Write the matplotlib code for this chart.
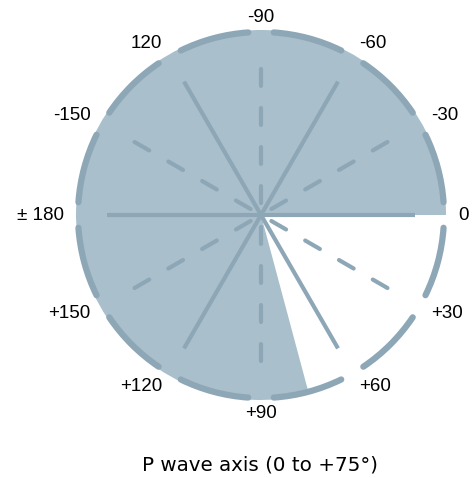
import numpy as np
import matplotlib
matplotlib.use('Agg')
import matplotlib.pyplot as plt
from matplotlib.patches import Wedge, Arc

# axis angles in degrees, screen convention (+ is clockwise / downward)
spoke_angles = [0, 30, 60, 90, 120, 150, 180, 210, 240, 270, 300, 330]
spoke_dashed = [False, True, False, True, False, True, False, True, False, True, False, True]
tick_labels = ['0', '+30', '+60', '+90', '+120', '+150', '\u00b1 180', '-150', '120', '-90', '-60', '-30']
normal_range = (0, 75)
title = 'P wave axis (0 to +75\u00b0)'

fill_color = '#a9bfcb'
line_color = '#8ea7b7'

cx, cy, R = 261, 215, 183

plt.rcParams['lines.scale_dashes'] = False

def main():
    fig = plt.figure(figsize=[4.73, 4.78], dpi=100)
    ax = fig.add_axes([0, 0, 1, 1])
    ax.set_xlim(0, 473)
    ax.set_ylim(478, 0)
    ax.set_aspect('equal')
    ax.axis('off')

    # shaded region = everything outside the normal range
    ax.add_patch(Wedge((cx, cy), R + 2, normal_range[1], 360 + normal_range[0],
                       facecolor=fill_color, edgecolor='none', zorder=1))

    # spokes
    for a, dashed in zip(spoke_angles, spoke_dashed):
        t = np.deg2rad(a)
        if dashed:
            r0, r1 = 12, 151
            ax.plot([cx + r0 * np.cos(t), cx + r1 * np.cos(t)],
                    [cy + r0 * np.sin(t), cy + r1 * np.sin(t)],
                    color=line_color, lw=3, dashes=(12.2, 15.9),
                    dash_capstyle='round', zorder=2)
        else:
            r1 = 154
            ax.plot([cx, cx + r1 * np.cos(t)], [cy, cy + r1 * np.sin(t)],
                    color=line_color, lw=3, solid_capstyle='butt', zorder=2)

    # outer ring, broken at every label
    for a in spoke_angles:
        ax.add_patch(Arc((cx, cy), 2 * R, 2 * R, theta1=a + 4.0, theta2=a + 30 - 4.0,
                         color=line_color, lw=4.5, capstyle='round', zorder=3))

    # labels
    for a, lab in zip(spoke_angles, tick_labels):
        t = np.deg2rad(a)
        c = np.cos(t)
        ha = 'left' if c > 0.1 else ('right' if c < -0.1 else 'center')
        ax.text(cx + 197 * c, cy + 198 * np.sin(t), lab, ha=ha, va='center',
                fontsize=13.5, family='Liberation Sans', color='black')

    ax.text(cx - 1, 465, title, ha='center', va='center', fontsize=14.3,
            family='DejaVu Sans', color='black')

    fig.savefig('out.png', dpi=100)

if __name__ == '__main__':
    main()
